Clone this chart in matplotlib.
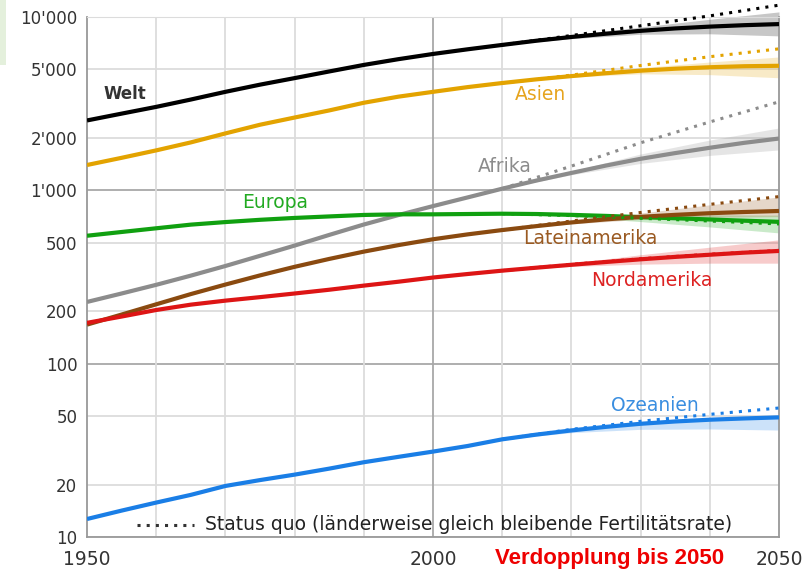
import matplotlib
matplotlib.use("Agg")
import matplotlib.pyplot as plt
from matplotlib.patches import Rectangle

# Bevölkerung nach Kontinent in Millionen, 1950-2050
years = [1950, 1955, 1960, 1965, 1970, 1975, 1980, 1985, 1990, 1995, 2000,
         2005, 2010, 2015, 2020, 2025, 2030, 2035, 2040, 2045, 2050]
proj_years = [2010, 2020, 2030, 2040, 2050]

welt = [2530, 2770, 3030, 3340, 3700, 4070, 4440, 4850, 5290, 5710, 6120,
        6510, 6900, 7300, 7670, 8010, 8320, 8590, 8800, 8970, 9100]
welt_sq = [6900, 7820, 8900, 10150, 11700]
welt_lo = [6900, 7500, 7950, 8000, 7780]
welt_hi = [6900, 7850, 8750, 9700, 10700]

asien = [1400, 1540, 1700, 1890, 2130, 2390, 2630, 2890, 3200, 3470, 3700,
         3940, 4160, 4370, 4560, 4740, 4900, 5030, 5130, 5200, 5230]
asien_sq = [4160, 4620, 5250, 5900, 6550]
asien_lo = [4160, 4500, 4700, 4650, 4460]
asien_hi = [4160, 4620, 5100, 5500, 5880]

afrika = [227, 254, 285, 322, 366, 419, 480, 553, 635, 720, 811,
          910, 1022, 1140, 1260, 1390, 1520, 1640, 1760, 1880, 1990]
afrika_sq = [1022, 1380, 1880, 2480, 3240]
afrika_lo = [1022, 1230, 1430, 1590, 1710]
afrika_hi = [1022, 1290, 1620, 1950, 2290]

europa = [547, 575, 604, 634, 656, 676, 693, 707, 721, 727, 727,
          730, 733, 730, 722, 712, 700, 690, 679, 668, 658]
europa_sq = [733, 715, 690, 665, 640]
europa_lo = [733, 705, 660, 615, 568]
europa_hi = [733, 730, 725, 722, 720]

lateinamerika = [168, 192, 220, 252, 286, 323, 362, 402, 443, 483, 522,
                 557, 590, 622, 653, 680, 703, 722, 738, 750, 760]
lateinamerika_sq = [590, 665, 745, 830, 920]
lateinamerika_lo = [590, 640, 680, 700, 705]
lateinamerika_hi = [590, 665, 740, 825, 916]

nordamerika = [172, 187, 204, 219, 231, 242, 254, 267, 282, 297, 314,
               329, 344, 358, 372, 386, 400, 413, 425, 437, 447]
nordamerika_sq = [344, 374, 403, 428, 450]
nordamerika_lo = [344, 364, 375, 380, 380]
nordamerika_hi = [344, 380, 425, 470, 518]

ozeanien = [12.7, 14.2, 15.8, 17.5, 19.7, 21.3, 22.9, 24.8, 27.0, 29.0, 31.1,
            33.5, 36.6, 39.0, 41.2, 43.2, 45.0, 46.4, 47.5, 48.3, 49.0]
ozeanien_sq = [36.6, 41.8, 46.5, 51.0, 55.5]
ozeanien_lo = [36.6, 40.0, 41.8, 42.0, 41.4]
ozeanien_hi = [36.6, 41.5, 45.8, 48.5, 50.5]

y_ticks = [10, 20, 50, 100, 200, 500, 1000, 2000, 5000, 10000]
y_labels = ["10", "20", "50", "100", "200", "500", "1'000", "2'000", "5'000", "10'000"]
x_ticks = [1950, 2000, 2050]
x_labels = ["1950", "2000", "2050"]

series = [
    # name, values, status quo, low, high, line colour, label colour, label pos
    ("Welt", welt, welt_sq, welt_lo, welt_hi, "#000000", "#333333", (1955.5, 3600)),
    ("Asien", asien, asien_sq, asien_lo, asien_hi, "#e3a300", "#e6a41e", (2015.5, 3550)),
    ("Afrika", afrika, afrika_sq, afrika_lo, afrika_hi, "#8c8c8c", "#8c8c8c", (2010.4, 1365)),
    ("Europa", europa, europa_sq, europa_lo, europa_hi, "#10a010", "#22aa22", (1977.2, 846)),
    ("Lateinamerika", lateinamerika, lateinamerika_sq, lateinamerika_lo,
     lateinamerika_hi, "#8a4a10", "#9a5a22", (2022.8, 525)),
    ("Nordamerika", nordamerika, nordamerika_sq, nordamerika_lo, nordamerika_hi,
     "#dd1515", "#dd2222", (2031.6, 300)),
    ("Ozeanien", ozeanien, ozeanien_sq, ozeanien_lo, ozeanien_hi,
     "#1a7ee6", "#3a8ee0", (2032.1, 57)),
]

fig = plt.figure(figsize=(8.07, 5.76), dpi=100)
fig.patches.append(Rectangle((0, 0.887), 0.007, 0.113, transform=fig.transFigure,
                             facecolor="#e4f0dc", edgecolor="none"))
ax = fig.add_axes([0.1078, 0.0677, 0.8575, 0.9028])
ax.set_yscale("log")
ax.set_xlim(1950, 2050)
ax.set_ylim(10, 10000)

# gridlines
for v in y_ticks:
    dark = v in (100, 1000)
    ax.axhline(v, color="#a8a8a8" if dark else "#dcdcdc", lw=1.3, zorder=0)
for yr in range(1960, 2050, 10):
    ax.axvline(yr, color="#a8a8a8" if yr == 2000 else "#dcdcdc", lw=1.3, zorder=0)

for name, vals, sq, lo, hi, col, lcol, pos in series:
    ax.fill_between(proj_years, lo, hi, color=col, alpha=0.22, lw=0, zorder=1,
                    clip_on=False)
    ax.plot(years, vals, color=col, lw=3.0, solid_capstyle="butt", zorder=3)
    ax.plot(proj_years, sq, color=col, lw=2.2, ls=(0, (1, 2.0)), zorder=4,
            clip_on=False)
    is_welt = name == "Welt"
    ax.text(pos[0], pos[1], name, color=lcol, fontsize=12 if is_welt else 13.5,
            fontweight="bold" if is_welt else "normal",
            ha="center", va="center", zorder=5)

# legend for the status quo projection
ax.plot([1957.2, 1965.5], [11.75, 11.75], color="#333333", lw=2.2, ls=(0, (1, 2.0)),
        solid_capstyle="butt")
ax.text(1967.0, 11.75, "Status quo (länderweise gleich bleibende Fertilitätsrate)",
        color="#222222", fontsize=13.5, ha="left", va="center")

ax.set_yticks(y_ticks)
ax.set_yticklabels(y_labels)
ax.yaxis.set_minor_locator(matplotlib.ticker.NullLocator())
ax.set_xticks(x_ticks)
ax.set_xticklabels(x_labels)
ax.tick_params(length=0, labelcolor="#333333")
ax.tick_params(axis="y", pad=7, labelsize=12)
ax.tick_params(axis="x", pad=9, labelsize=13.5)

for s in ("left", "bottom", "right"):
    ax.spines[s].set_color("#999999")
    ax.spines[s].set_linewidth(1.3)
ax.spines["top"].set_color("#dcdcdc")

fig.text(0.755, 0.031, "Verdopplung bis 2050", color="#ee0000", fontsize=16,
         fontweight="bold", family=["Liberation Sans Narrow", "Liberation Sans", "DejaVu Sans"],
         ha="center", va="center")

fig.savefig("out.png", dpi=100)
